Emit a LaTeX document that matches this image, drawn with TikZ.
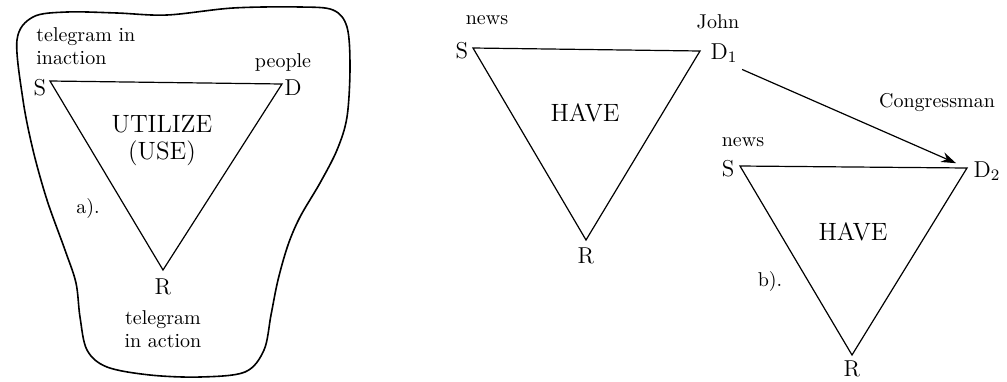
\documentclass[tikz,border=0pt]{standalone}
\usetikzlibrary{arrows.meta}
\tikzset{
  vlabel/.style = {inner sep=0pt, font=\fontsize{11.5}{12}\selectfont},
  note/.style   = {inner sep=0pt, align=center, font=\fontsize{10}{11.5}\selectfont},
  verb/.style   = {note, font=\fontsize{12.5}{13.5}\selectfont},
  tri/.style    = {draw=black, line width=0.6pt, line join=miter},
  blob/.style   = {draw=black, line width=0.8pt},
  ar/.style     = {-{Stealth[length=2.6mm, width=1.8mm]}, draw=black, line width=0.6pt}
}
\begin{document}
\begin{tikzpicture}[x=0.5pt, y=-0.5pt]
    \useasboundingbox (0,0) rectangle (1007,381);
    % a) utilize
    \draw[blob] plot[smooth cycle, tension=0.55] coordinates {
      (17,40) (33,17) (67,12) (117,13) (167,15) (233,8) (300,7) (333,10)
      (347,27) (350,67) (347,117) (337,150) (320,183) (300,217) (288,245)
      (278,280) (271,315) (264,350) (245,372) (200,377) (150,375) (107,367)
      (87,350) (80,317) (76,283) (65,250) (47,200) (33,150) (23,100)};
    \coordinate (sA) at (50,81);
    \coordinate (dA) at (282,84);
    \coordinate (rA) at (163,270);
    \draw[tri] (sA) -- (dA) -- (rA) -- cycle;
    \node[vlabel] (sAl) at (40,88) {S};
    \node[vlabel] (dAl) at (293,88) {D};
    \node[vlabel] (rAl) at (163,287) {R};
    \node[note, align=left, anchor=west] (telIn) at (36,46) {telegram in\\inaction};
    \node[note] (peop) at (283,62) {people};
    \node[note] (telAc) at (163,329) {telegram\\in action};
    \node[verb] (util) at (162,141) {UTILIZE\\(USE)};
    \node[note] (capA) at (88,208) {a).};
    % b) have, first
    \coordinate (sB) at (473,48);
    \coordinate (dB) at (700,51);
    \coordinate (rB) at (586,240);
    \draw[tri] (sB) -- (dB) -- (rB) -- cycle;
    \node[vlabel] (sBl) at (462,51) {S};
    \node[vlabel] (dBl) at (724,53) {D$_1$};
    \node[vlabel] (rBl) at (586,256) {R};
    \node[note] (newsB) at (487,20) {news};
    \node[note] (john) at (718,22) {John};
    \node[verb] (haveB) at (585,113) {HAVE};
    % b) have, second
    \coordinate (sC) at (740,166);
    \coordinate (dC) at (967,168);
    \coordinate (rC) at (852,355);
    \draw[tri] (sC) -- (dC) -- (rC) -- cycle;
    \node[vlabel] (sCl) at (728,169) {S};
    \node[vlabel] (dCl) at (987,171) {D$_2$};
    \node[vlabel] (rCl) at (852,369) {R};
    \node[note] (newsC) at (743,142) {news};
    \node[note] (congr) at (937,103) {Congressman};
    \node[verb] (haveC) at (853,232) {HAVE};
    \node[note] (capB) at (770,281) {b).};
    \draw[ar, shorten <=23pt, shorten >=6pt] (dB) -- (dC);
\end{tikzpicture}
\end{document}
